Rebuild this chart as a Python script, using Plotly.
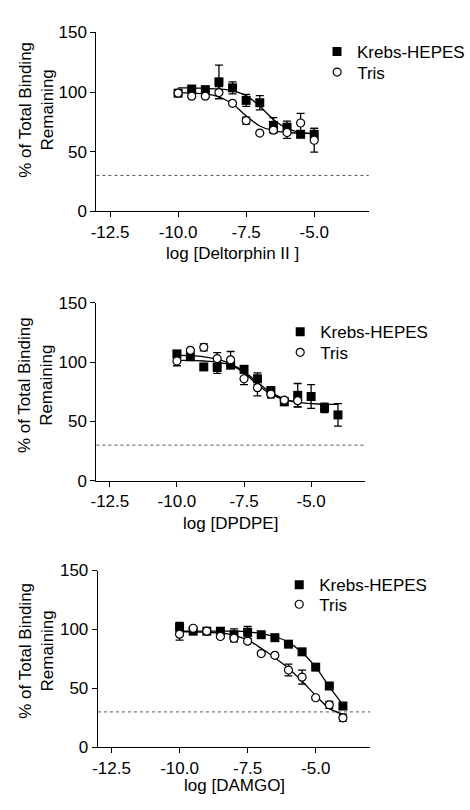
import plotly.graph_objects as go

FONT = "Liberation Sans, Arial, Helvetica, sans-serif"

# ---------------- data ----------------
# Panel 1: Deltorphin II
delt_x = [-10, -9.5, -9, -8.5, -8, -7.5, -7, -6.5, -6, -5.5, -5]
delt_krebs = [99, 102.5, 102, 108.5, 103.5, 93, 91, 72, 70.5, 64.5, 64.5]
delt_krebs_sem = [2, 2, 2, 14, 5, 5, 6, 6.5, 5, 2, 5]
delt_tris = [99, 96.5, 96.5, 99.5, 90.5, 76, 65.5, 68, 66, 74, 59.5]
delt_tris_sem = [1, 1, 1, 5, 1, 3, 1, 2, 5, 8, 10]
delt_fit_x = [-10, -9.5, -9, -8.5, -8, -7.5, -7, -6.5, -6, -5.5, -5]
delt_krebs_fit = [103.5, 103.5, 103, 102.5, 101, 97, 88, 77, 69.5, 66, 65]
delt_tris_fit = [99.5, 99, 98.5, 96, 90, 80, 71.5, 67.5, 66, 65.5, 65.5]

# Panel 2: DPDPE
dpdpe_krebs_x = [-10, -9.5, -9, -8.5, -8, -7.5, -7, -6.5, -6, -5.5, -5, -4.5, -4]
dpdpe_krebs = [107, 104.5, 96, 95.5, 97.5, 94, 86, 76, 66.5, 72, 71, 61.5, 55.5]
dpdpe_krebs_sem = [1.5, 2, 1, 5, 2, 1.5, 5, 3, 3, 10, 10, 4, 9.5]
dpdpe_tris_x = [-10, -9.5, -9, -8.5, -8, -7.5, -7, -6.5, -6, -5.5]
dpdpe_tris = [101, 110, 112.5, 103, 102, 86, 78.5, 73, 68, 67.5]
dpdpe_tris_sem = [4, 1, 3, 5, 7, 5, 7, 3, 2, 5]
dpdpe_krebs_fit_x = [-10, -9.5, -9, -8.5, -8, -7.5, -7, -6.5, -6, -5.5, -5, -4.5, -4]
dpdpe_krebs_fit = [106, 105.5, 104.5, 102.5, 98.5, 92, 83, 74.5, 69, 66, 65, 64.5, 64.5]
dpdpe_tris_fit_x = [-10, -9.5, -9, -8.5, -8, -7.5, -7, -6.5, -6, -5.5]
dpdpe_tris_fit = [101.5, 101.5, 101, 100, 97.5, 91, 81, 73, 68.5, 66.5]

# Panel 3: DAMGO
damgo_x = [-10, -9.5, -9, -8.5, -8, -7.5, -7, -6.5, -6, -5.5, -5, -4.5, -4]
damgo_krebs = [102, 98.5, 98.5, 98.5, 95.5, 97.5, 95.5, 93, 87.5, 81, 68, 52, 35]
damgo_krebs_sem = [4, 1, 1, 1, 5, 5, 1, 1, 1, 1, 1, 1, 1]
damgo_tris = [96, 101, 98.5, 94, 92.5, 90, 79.5, 78, 65.5, 59.5, 42, 36, 25]
damgo_tris_sem = [5, 1, 1, 1, 3, 1, 1, 1, 5, 6, 1, 3, 3]
damgo_fit_x = [-10, -9.5, -9, -8.5, -8, -7.5, -7, -6.5, -6, -5.5, -5, -4.5, -4]
damgo_krebs_fit = [98.5, 98.5, 98.5, 98.5, 98.5, 98, 96.5, 94, 89, 80.5, 68, 51.5, 36]
damgo_tris_fit = [98, 98, 97.5, 97, 95, 91, 84, 76, 67, 56, 44, 33, 28]

x_tickvals = [-12.5, -10, -7.5, -5]
x_ticktext = ["-12.5", "-10.0", "-7.5", "-5.0"]
y_tickvals = [0, 50, 100, 150]
x_titles = ["log [Deltorphin II ]", "log [DPDPE]", "log [DAMGO]"]
series_names = ["Krebs-HEPES", "Tris"]
ref_level = 30

# ---------------- layout geometry (pixels) ----------------
W, H = 470, 810
x_doms_px = [(93, 373), (93, 369), (94.5, 374.5)]
y_doms_px = [(24, 207), (301, 483), (575, 756)]
legend_px = [((320, 44), (320, 65)), ((282, 331), (282, 352)), ((281, 590), (281, 610))]
xtitle_y = [250, 527, 795]
ytitle_y = [103, 385, 657]

panels = [
    (delt_x, delt_krebs, delt_krebs_sem, delt_x, delt_tris, delt_tris_sem,
     delt_fit_x, delt_krebs_fit, delt_fit_x, delt_tris_fit),
    (dpdpe_krebs_x, dpdpe_krebs, dpdpe_krebs_sem, dpdpe_tris_x, dpdpe_tris, dpdpe_tris_sem,
     dpdpe_krebs_fit_x, dpdpe_krebs_fit, dpdpe_tris_fit_x, dpdpe_tris_fit),
    (damgo_x, damgo_krebs, damgo_krebs_sem, damgo_x, damgo_tris, damgo_tris_sem,
     damgo_fit_x, damgo_krebs_fit, damgo_fit_x, damgo_tris_fit),
]

fig = go.Figure()
layout = dict(
    width=W, height=H,
    margin=dict(l=0, r=0, t=0, b=0),
    paper_bgcolor="white", plot_bgcolor="white",
    font=dict(family=FONT, size=17, color="black"),
    showlegend=True,
    shapes=[], annotations=[],
)

for i, p in enumerate(panels):
    kx, ky, ke, tx, ty, te, kfx, kfy, tfx, tfy = p
    n = "" if i == 0 else str(i + 1)
    xa, ya = "x" + n, "y" + n
    leg_k = "legend" if i == 0 else "legend" + str(2 * i + 1)
    leg_t = "legend" + str(2 * i + 2)

    fig.add_trace(go.Scatter(x=kfx, y=kfy, mode="lines", line=dict(color="black", width=1.3, shape="spline"),
                             xaxis=xa, yaxis=ya, showlegend=False, hoverinfo="skip"))
    fig.add_trace(go.Scatter(x=tfx, y=tfy, mode="lines", line=dict(color="black", width=1.3, shape="spline"),
                             xaxis=xa, yaxis=ya, showlegend=False, hoverinfo="skip"))
    fig.add_trace(go.Scatter(x=kx, y=ky, mode="markers", name=series_names[0],
                             marker=dict(symbol="square", size=9, color="black"),
                             error_y=dict(type="data", array=ke, color="black", thickness=1.3, width=4),
                             xaxis=xa, yaxis=ya, legend=leg_k, cliponaxis=False))
    fig.add_trace(go.Scatter(x=tx, y=ty, mode="markers", name=series_names[1],
                             marker=dict(symbol="circle", size=8, color="white", line=dict(color="black", width=1.2)),
                             error_y=dict(type="data", array=te, color="black", thickness=1.3, width=4),
                             xaxis=xa, yaxis=ya, legend=leg_t, cliponaxis=False))

    axis_common = dict(showline=True, linecolor="black", linewidth=1.3, ticks="outside",
                       ticklen=5, tickwidth=1.3, tickcolor="black", showgrid=False, zeroline=False,
                       tickfont=dict(family=FONT, size=17, color="black"))
    x0, x1 = x_doms_px[i]
    y0, y1 = y_doms_px[i]
    layout["xaxis" + n] = dict(axis_common, domain=[x0 / W, x1 / W], range=[-13, -3],
                               tickvals=x_tickvals, ticktext=x_ticktext, anchor=ya)
    layout["yaxis" + n] = dict(axis_common, domain=[1 - y1 / H, 1 - y0 / H], range=[0, 150],
                               tickvals=y_tickvals, anchor=xa)
    for leg, (lx, ly) in zip([leg_k, leg_t], legend_px[i]):
        layout[leg] = dict(x=lx / W, y=1 - ly / H, xanchor="left", yanchor="middle",
                           xref="paper", yref="paper", bgcolor="rgba(0,0,0,0)",
                           font=dict(family=FONT, size=17, color="black"), itemsizing="trace")
    layout["shapes"].append(dict(type="line", xref=xa + " domain", yref=ya, x0=0, x1=1,
                                 y0=ref_level, y1=ref_level,
                                 line=dict(color="#555555", width=1, dash="dot")))
    layout["annotations"].append(dict(text=x_titles[i], xref="paper", yref="paper",
                                      x=(x0 + x1) / 2 / W, y=1 - xtitle_y[i] / H,
                                      xanchor="center", yanchor="middle", showarrow=False,
                                      font=dict(family=FONT, size=17, color="black")))
    layout["annotations"].append(dict(text="% of Total Binding<br>Remaining", xref="paper", yref="paper",
                                      x=31 / W, y=1 - ytitle_y[i] / H, textangle=-90,
                                      xanchor="center", yanchor="middle", showarrow=False,
                                      font=dict(family=FONT, size=17, color="black")))

fig.update_layout(**layout)
fig.write_html("out.html", config={"displayModeBar": False},
               post_script="document.body.style.margin='0';document.body.style.overflow='hidden';")
